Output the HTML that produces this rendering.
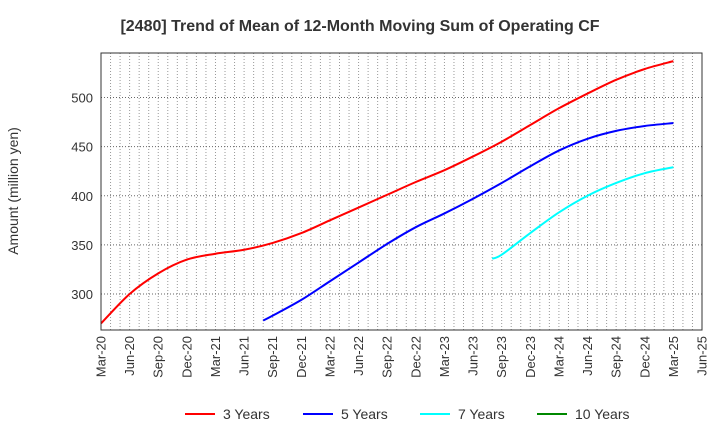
<!DOCTYPE html>
<html><head><meta charset="utf-8"><style>
body{margin:0;background:#fff;font-family:"Liberation Sans",sans-serif;}
</style></head><body>
<svg width="720" height="440" id="c" font-family="Liberation Sans, sans-serif">
<text x="360" y="31" text-anchor="middle" font-size="16" font-weight="bold" fill="#333">[2480]  Trend of Mean of 12-Month Moving Sum of Operating CF</text>
<text transform="translate(18,191) rotate(-90)" text-anchor="middle" font-size="14" fill="#333">Amount (million yen)</text>
<g id="grid"></g><g id="series"></g><g id="axes"></g>
<g id="legend"></g>
</svg>
<script>
const xLabels=["Mar-20","Jun-20","Sep-20","Dec-20","Mar-21","Jun-21","Sep-21","Dec-21","Mar-22","Jun-22","Sep-22","Dec-22","Mar-23","Jun-23","Sep-23","Dec-23","Mar-24","Jun-24","Sep-24","Dec-24","Mar-25","Jun-25"];
const yTicks=[300,350,400,450,500];
const months3=[0,3,6,9,12,15,18,21,24,27,30,33,36,39,42,45,48,51,54,57,60];
const vals3=[270,300,321,335,341,345,352,362,375,388,401,414,426,440,455,472,489,504,518,529,537];
const months5=[17,18,21,24,27,30,33,36,39,42,45,48,51,54,57,60];
const vals5=[273,278,294,313,332,351,368,382,397,413,430,446,458,466,471,474];
const months7=[41,42,45,48,51,54,57,60];
const vals7=[336,340,362,383,400,413,423,429];
const L=101,R=702,T=53,B=330;
const X=m=>L+m*(R-L)/63;
const Y=v=>294-(v-300)*0.9825;
const NS="http://www.w3.org/2000/svg";
function mk(t,a,p){const e=document.createElementNS(NS,t);for(const k in a)e.setAttribute(k,a[k]);p.appendChild(e);return e;}
const g=document.getElementById('grid'),ax=document.getElementById('axes'),s=document.getElementById('series'),lg=document.getElementById('legend');
for(let m=1;m<63;m++){const l=mk('line',{x1:X(m),x2:X(m),y1:T,y2:B,stroke:'#999','stroke-dasharray':'1,2','stroke-width':1},g);

}
yTicks.forEach(v=>{const l=mk('line',{x1:L,x2:R,y1:Y(v),y2:Y(v),stroke:'#666','stroke-dasharray':'1,2'},g);


const t=mk('text',{x:L-8,y:Y(v)+5,'text-anchor':'end','font-size':13,fill:'#333'},ax);t.textContent=v;

});
xLabels.forEach((lab,i)=>{const x=X(i*3);const t=mk('text',{transform:`translate(${x+4.5},336) rotate(-90)`,'text-anchor':'end','font-size':13,fill:'#333'},ax);t.textContent=lab;

});
const fr=mk('rect',{x:L,y:T,width:R-L,height:B-T,fill:'none',stroke:'#333','stroke-width':1},ax);


function path(ms,vs){const p=ms.map((m,i)=>[X(m),Y(vs[i])]);let d=`M${p[0][0]},${p[0][1]}`;
for(let i=0;i<p.length-1;i++){const p0=p[Math.max(0,i-1)],p1=p[i],p2=p[i+1],p3=p[Math.min(p.length-1,i+2)];
d+=` C${p1[0]+(p2[0]-p0[0])/6},${p1[1]+(p2[1]-p0[1])/6} ${p2[0]-(p3[0]-p1[0])/6},${p2[1]-(p3[1]-p1[1])/6} ${p2[0]},${p2[1]}`;}return d;}
[[months3,vals3,'#f00','line-3-years'],[months5,vals5,'#00f','line-5-years'],[months7,vals7,'#0ff','line-7-years']].forEach(([m,v,c,n])=>{
const e=mk('path',{d:path(m,v),fill:'none',stroke:c,'stroke-width':2},s);

});
[['3 Years','#f00',185],['5 Years','#00f',303],['7 Years','#0ff',420],['10 Years','#080',537]].forEach(([t,c,x])=>{
const l=mk('line',{x1:x,x2:x+30,y1:414,y2:414,stroke:c,'stroke-width':2},lg);


const tx=mk('text',{x:x+38,y:419,'font-size':14,fill:'#333'},lg);tx.textContent=t;

});
</script>
</body></html>
